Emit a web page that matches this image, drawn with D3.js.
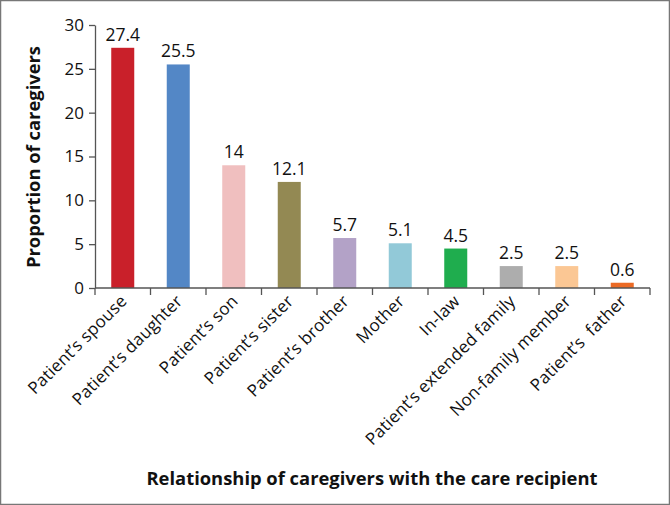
<!DOCTYPE html>
<html><head><meta charset="utf-8">
<script src="https://cdn.jsdelivr.net/npm/d3@7"></script>
<style>body{margin:0;background:#fff}svg{display:block}text{font-family:"Open Sans",sans-serif;white-space:pre}</style>
</head><body>
<script>
const categories = ["Patient\u2019s spouse","Patient\u2019s daughter","Patient\u2019s son","Patient\u2019s sister","Patient\u2019s brother","Mother","In-law","Patient\u2019s extended family","Non-family member","Patient\u2019s  father"];
const values = [27.4,25.5,14,12.1,5.7,5.1,4.5,2.5,2.5,0.6];
const valueLabels = ["27.4","25.5","14","12.1","5.7","5.1","4.5","2.5","2.5","0.6"];
const colors = ["#C9202A","#5387C6","#F0BFBF","#938953","#B3A2C7","#92C9D8","#1FAD4E","#ADADAD","#FBC794","#EB6A25"];
const yTicks = [0,5,10,15,20,25,30];

const W=670,H=505;
const svg=d3.select("body").append("svg").attr("width",W).attr("height",H);
svg.append("rect").attr("x",0.5).attr("y",0.5).attr("width",W-1).attr("height",H-1).attr("fill","#fff").attr("stroke","#777").attr("stroke-width",1.5);

const xb=d3.scaleBand().domain(categories).range([95,650]);
const y=d3.scaleLinear().domain([0,30]).range([288,25]);

svg.selectAll("rect.bar").data(values).enter().append("rect")
 .attr("x",(d,i)=>xb(categories[i])+xb.bandwidth()/2-11.5).attr("width",23)
 .attr("y",d=>y(d)).attr("height",d=>y(0)-y(d)).attr("fill",(d,i)=>colors[i]);

svg.selectAll("text.val").data(values).enter().append("text")
 .attr("x",(d,i)=>xb(categories[i])+xb.bandwidth()/2).attr("y",d=>y(d)-7)
 .attr("text-anchor","middle").attr("font-size",17.5).attr("fill","#111").text((d,i)=>valueLabels[i]);

const ya=svg.append("g").attr("transform","translate(95,0)").call(d3.axisLeft(y).tickValues(yTicks).tickSize(6).tickSizeOuter(0));
ya.select(".domain").attr("stroke","#555").attr("stroke-width",1.3);
ya.selectAll(".tick line").attr("stroke","#555").attr("stroke-width",1.3);
ya.selectAll(".tick text").attr("font-size",17).attr("fill","#111").attr("font-family","'Open Sans',sans-serif").attr("x",-11);

svg.append("line").attr("x1",95).attr("x2",650).attr("y1",y(0)).attr("y2",y(0)).attr("stroke","#555").attr("stroke-width",1.3);
const edges=categories.map(c=>xb(c)).concat([650]);
svg.selectAll("line.xt").data(edges).enter().append("line")
 .attr("x1",d=>d).attr("x2",d=>d).attr("y1",y(0)).attr("y2",y(0)+7).attr("stroke","#555").attr("stroke-width",1.3);

svg.selectAll("text.xl").data(categories).enter().append("text")
 .attr("transform",c=>`translate(${xb(c)+xb.bandwidth()/2+1},${y(0)+10}) rotate(-45)`)
 .attr("text-anchor","end").attr("dy","0.35em").attr("font-size",17).attr("letter-spacing",0.2).attr("fill","#111").text(c=>c);

svg.append("text").attr("transform","translate(40,157) rotate(-90)").attr("text-anchor","middle")
 .attr("font-size",17).attr("font-weight","bold").attr("fill","#111").attr("textLength",222).attr("lengthAdjust","spacingAndGlyphs").text("Proportion of caregivers");
svg.append("text").attr("x",372).attr("y",485).attr("text-anchor","middle")
 .attr("font-size",17).attr("font-weight","bold").attr("fill","#111").attr("textLength",451).attr("lengthAdjust","spacingAndGlyphs").text("Relationship of caregivers with the care recipient");
</script>
</body></html>
